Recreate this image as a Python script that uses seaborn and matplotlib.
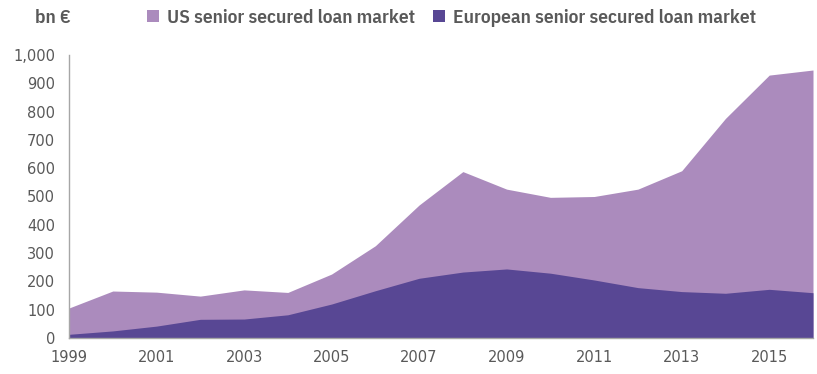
import matplotlib
matplotlib.use("Agg")
import matplotlib.pyplot as plt
from matplotlib.patches import Patch
from matplotlib import font_manager as fm
import seaborn as sns
import pandas as pd

years = list(range(1999, 2017))
us_market = [106, 166, 162, 148, 170, 161, 226, 326, 470, 588, 526, 497, 500, 526, 591, 776, 929, 947]
eu_market = [13, 25, 42, 66, 67, 82, 120, 167, 211, 233, 244, 229, 205, 178, 164, 158, 172, 160]
series_names = ["US senior secured loan market", "European senior secured loan market"]
y_ticks = [0, 100, 200, 300, 400, 500, 600, 700, 800, 900, 1000]
x_ticks = [1999, 2001, 2003, 2005, 2007, 2009, 2011, 2013, 2015]
unit_label = "bn €"

us_color = "#ab8bbd"
eu_color = "#584794"
text_color = "#595959"
spine_color = "#a6a6a6"

df = pd.DataFrame({"year": years, "us": us_market, "eu": eu_market})

sns.set_theme(style="white")
plt.rcParams["font.family"] = ["DejaVu Sans"]


def _weight(f):
    if isinstance(f.weight, int):
        return f.weight
    return {"bold": 700, "normal": 400, "semibold": 600, "demibold": 600,
            "medium": 500, "light": 300, "regular": 400}.get(str(f.weight), 400)


fig = plt.figure(figsize=(8.17, 3.74), dpi=100)
renderer = fig.canvas.get_renderer()

# pick an upright condensed font whose width at ~14pt is close to the reference label width
target_w = 248.0
best = None
seen = set()
for f in fm.fontManager.ttflist:
    name = (f.name + " " + f.fname).lower()
    if f.fname in seen or f.style != "normal" or "italic" in name or "oblique" in name:
        continue
    seen.add(f.fname)
    narrow = ("narrow" in name) or ("condensed" in name) or (
        str(f.stretch) in ("condensed", "semi-condensed", "extra-condensed"))
    wt = _weight(f)
    if not narrow or wt < 450 or wt > 750:
        continue
    try:
        p = fm.FontProperties(fname=f.fname, size=14)
        t = fig.text(0, 0, series_names[0], fontproperties=p)
        w = t.get_window_extent(renderer).width
        t.remove()
    except Exception:
        continue
    score = abs(w - target_w) + abs(wt - 550) * 0.05
    if best is None or score < best[0]:
        best = (score, f.fname, w)

if best:
    head_prop = fm.FontProperties(fname=best[1])
    size = 14 * target_w / best[2]
else:
    head_prop = fm.FontProperties(family="DejaVu Sans", weight="bold")
    size = 11
size = max(9.0, min(16.0, size))
head_prop.set_size(size)

ax = fig.add_axes([69 / 817, 36 / 374, (813 - 69) / 817, (338 - 55) / 374])

ax.fill_between(df["year"], 0, df["us"], color=us_color, linewidth=0)
ax.fill_between(df["year"], 0, df["eu"], color=eu_color, linewidth=0)
sns.lineplot(data=df, x="year", y="us", ax=ax, color=us_color, linewidth=0)

ax.set_xlim(1999, 2016)
ax.set_ylim(0, 1000)
ax.set_xlabel("")
ax.set_ylabel("")
ax.set_xticks(x_ticks)
ax.set_xticklabels([str(x) for x in x_ticks])
ax.set_yticks(y_ticks)
ax.set_yticklabels([f"{v:,}" for v in y_ticks])

for side in ["top", "right"]:
    ax.spines[side].set_visible(False)
for side in ["left", "bottom"]:
    ax.spines[side].set_color(spine_color)
    ax.spines[side].set_linewidth(1.0)

ax.tick_params(axis="both", which="both", colors=spine_color, labelcolor=text_color,
               labelsize=10.5, length=4, width=1, direction="out")
ax.tick_params(axis="y", pad=6)
ax.tick_params(axis="x", pad=5)

fig.text(35 / 817, 1 - 18 / 374, unit_label, ha="left", va="center",
         fontproperties=head_prop, color=text_color)

handles = [Patch(facecolor=us_color, edgecolor="none"), Patch(facecolor=eu_color, edgecolor="none")]
leg = fig.legend(handles, series_names, loc="center left", bbox_to_anchor=(147 / 817, 1 - 18 / 374),
                 ncol=2, frameon=False, handlelength=0.6, handleheight=0.6, handletextpad=0.45,
                 columnspacing=0.9, prop=head_prop,
                 labelcolor=text_color, borderaxespad=0, borderpad=0)

fig.savefig("out.png", dpi=100)
